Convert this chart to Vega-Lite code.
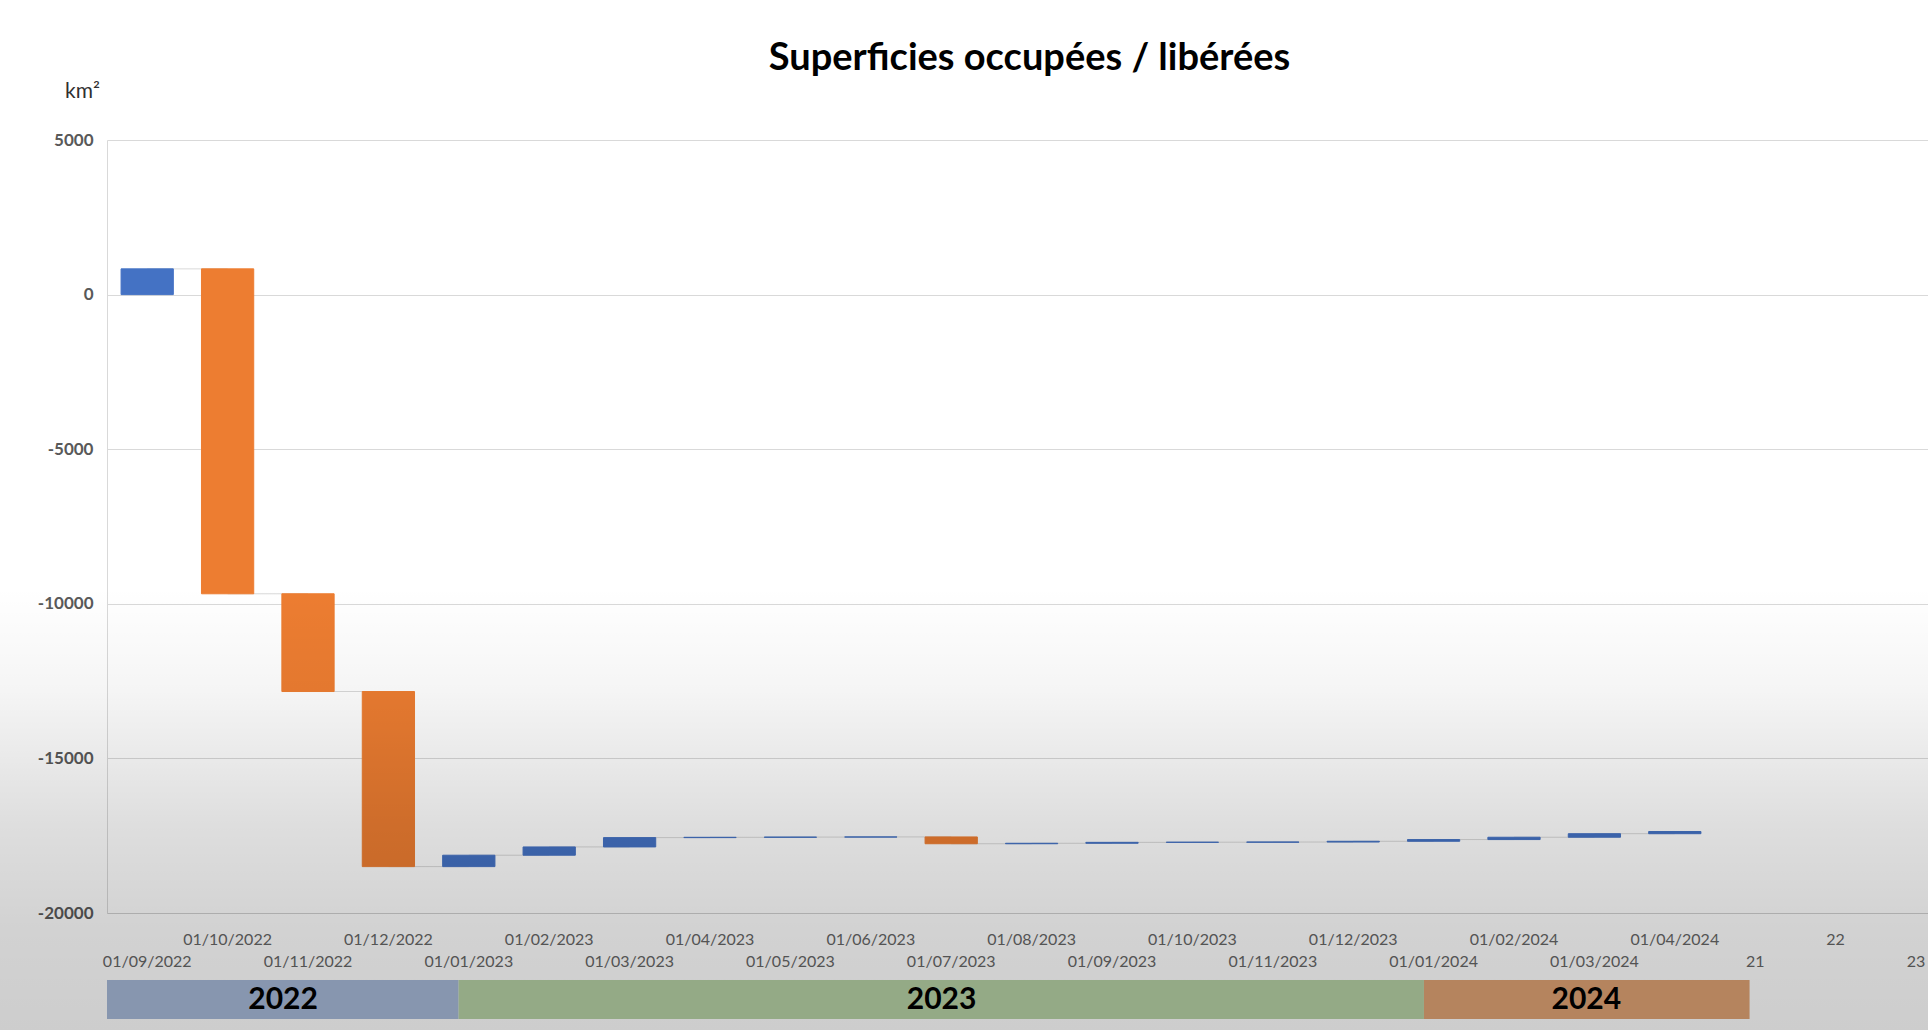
{
  "$schema": "https://vega.github.io/schema/vega-lite/v6.json",
  "width": 1821,
  "height": 773,
  "autosize": {"type": "none"},
  "padding": {"left": 107, "top": 140, "right": 0, "bottom": 117},
  "background": "white",
  "config": {"view": {"stroke": null}, "font": "Lato"},
  "title": {
    "text": "Superficies occupées / libérées",
    "font": "Lato",
    "fontSize": 38,
    "fontWeight": "bold",
    "color": "#000000",
    "anchor": "middle",
    "frame": "group",
    "dx": 12,
    "dy": 37,
    "offset": 9,
    "baseline": "alphabetic"
  },
  "datasets": {
    "flux": [
      {"cat": "01/09/2022", "start": 0, "end": 832, "type": "hausse", "next": "01/10/2022"},
      {"cat": "01/10/2022", "start": 832, "end": -9676, "type": "baisse", "next": "01/11/2022"},
      {"cat": "01/11/2022", "start": -9676, "end": -12837, "type": "baisse", "next": "01/12/2022"},
      {"cat": "01/12/2022", "start": -12837, "end": -18500, "type": "baisse", "next": "01/01/2023"},
      {"cat": "01/01/2023", "start": -18500, "end": -18131, "type": "hausse", "next": "01/02/2023"},
      {"cat": "01/02/2023", "start": -18131, "end": -17863, "type": "hausse", "next": "01/03/2023"},
      {"cat": "01/03/2023", "start": -17863, "end": -17562, "type": "hausse", "next": "01/04/2023"},
      {"cat": "01/04/2023", "start": -17562, "end": -17552, "type": "hausse", "next": "01/05/2023"},
      {"cat": "01/05/2023", "start": -17552, "end": -17545, "type": "hausse", "next": "01/06/2023"},
      {"cat": "01/06/2023", "start": -17545, "end": -17540, "type": "hausse", "next": "01/07/2023"},
      {"cat": "01/07/2023", "start": -17540, "end": -17760, "type": "baisse", "next": "01/08/2023"},
      {"cat": "01/08/2023", "start": -17760, "end": -17745, "type": "hausse", "next": "01/09/2023"},
      {"cat": "01/09/2023", "start": -17745, "end": -17715, "type": "hausse", "next": "01/10/2023"},
      {"cat": "01/10/2023", "start": -17715, "end": -17710, "type": "hausse", "next": "01/11/2023"},
      {"cat": "01/11/2023", "start": -17710, "end": -17705, "type": "hausse", "next": "01/12/2023"},
      {"cat": "01/12/2023", "start": -17705, "end": -17680, "type": "hausse", "next": "01/01/2024"},
      {"cat": "01/01/2024", "start": -17680, "end": -17625, "type": "hausse", "next": "01/02/2024"},
      {"cat": "01/02/2024", "start": -17625, "end": -17550, "type": "hausse", "next": "01/03/2024"},
      {"cat": "01/03/2024", "start": -17550, "end": -17435, "type": "hausse", "next": "01/04/2024"},
      {"cat": "01/04/2024", "start": -17435, "end": -17365, "type": "hausse", "next": null}
    ],
    "annees": [
      {"annee": "2022", "debut": 0, "fin": 4.373, "centre": 2.19},
      {"annee": "2023", "debut": 4.373, "fin": 16.38, "centre": 10.38},
      {"annee": "2024", "debut": 16.38, "fin": 20.43, "centre": 18.4}
    ],
    "fond": [{"a": 0, "b": 1}]
  },
  "layer": [
    {
      "data": {"name": "flux"},
      "encoding": {
        "x": {
          "field": "cat",
          "type": "nominal",
          "sort": null,
          "scale": {
            "type": "band",
            "domain": ["01/09/2022", "01/10/2022", "01/11/2022", "01/12/2022", "01/01/2023", "01/02/2023", "01/03/2023", "01/04/2023", "01/05/2023", "01/06/2023", "01/07/2023", "01/08/2023", "01/09/2023", "01/10/2023", "01/11/2023", "01/12/2023", "01/01/2024", "01/02/2024", "01/03/2024", "01/04/2024", "21", "22", "23"],
            "range": [0, 1849.2],
            "paddingInner": 0.35,
            "paddingOuter": 0.175
          },
          "axis": {
            "title": null,
            "ticks": false,
            "grid": false,
            "labelAngle": 0,
            "labelPadding": 18,
            "labelFont": "Lato",
            "labelFontSize": 16,
            "labelColor": "#666666",
            "labelLineHeight": 22.5,
            "labelOverlap": false,
            "labelFlush": false,
            "labelBound": false,
            "domainColor": "#d0d0d0",
            "labelExpr": "((length(datum.value) > 3 ? toNumber(substring(datum.value, 3, 5)) : toNumber(datum.value)) % 2 == 1) ? ['', datum.value] : datum.value"
          }
        }
      },
      "layer": [
        {
          "transform": [{"filter": "datum.next != null"}],
          "mark": {"type": "rule", "color": "#d9d9d9", "strokeWidth": 1},
          "encoding": {
            "x2": {"field": "next"},
            "y": {"field": "end", "type": "quantitative"}
          }
        },
        {
          "mark": {"type": "bar", "strokeWidth": 1},
          "encoding": {
            "y": {
              "field": "start",
              "type": "quantitative",
              "scale": {"domain": [-20000, 5000], "nice": false, "zero": false},
              "axis": {
                "values": [-20000, -15000, -10000, -5000, 0, 5000],
                "labelExpr": "'' + datum.value",
                "labelFont": "Lato",
                "labelFontWeight": "bold",
                "labelFontSize": 17,
                "labelColor": "#595959",
                "labelPadding": 14,
                "ticks": false,
                "domainColor": "#d9d9d9",
                "gridColor": "#d9d9d9",
                "title": "km²",
                "titleAngle": 0,
                "titleX": -25,
                "titleY": -49,
                "titleAlign": "center",
                "titleBaseline": "middle",
                "titleFont": "Lato",
                "titleFontWeight": "normal",
                "titleFontSize": 21,
                "titleColor": "#303030"
              }
            },
            "y2": {"field": "end"},
            "color": {
              "field": "type",
              "type": "nominal",
              "scale": {"domain": ["hausse", "baisse"], "range": ["#4472C4", "#ED7D31"]},
              "legend": null
            },
            "stroke": {
              "field": "type",
              "type": "nominal",
              "scale": {"domain": ["hausse", "baisse"], "range": ["#4472C4", "#ED7D31"]},
              "legend": null
            }
          }
        }
      ]
    },
    {
      "data": {"name": "fond"},
      "mark": {
        "type": "rect",
        "color": {
          "gradient": "linear",
          "x1": 0, "y1": 0, "x2": 0, "y2": 1,
          "stops": [
            {"offset": 0, "color": "rgba(0,0,0,0)"},
            {"offset": 0.164, "color": "rgba(0,0,0,0)"},
            {"offset": 0.358, "color": "rgba(0,0,0,0.04)"},
            {"offset": 0.611, "color": "rgba(0,0,0,0.13)"},
            {"offset": 0.806, "color": "rgba(0,0,0,0.175)"},
            {"offset": 1, "color": "rgba(0,0,0,0.195)"}
          ]
        }
      },
      "encoding": {
        "x": {"field": "a", "type": "quantitative", "scale": {"domain": [0, 1], "range": [-107, 1821], "nice": false, "zero": false}, "axis": null},
        "x2": {"field": "b"},
        "y": {"field": "a", "type": "quantitative", "scale": {"domain": [0, 1], "range": [890, 360], "nice": false, "zero": false}, "axis": null},
        "y2": {"field": "b"}
      }
    },
    {
      "data": {"name": "annees"},
      "layer": [
        {
          "mark": {"type": "rect"},
          "encoding": {
            "x": {"field": "debut", "type": "quantitative", "scale": {"domain": [0, 23], "range": [0, 1849.2], "nice": false, "zero": false}, "axis": null},
            "x2": {"field": "fin"},
            "y": {"datum": 0, "type": "quantitative", "scale": {"domain": [0, 1], "range": [879, 840], "nice": false, "zero": false}, "axis": null},
            "y2": {"datum": 1},
            "color": {
              "field": "annee",
              "type": "nominal",
              "scale": {"domain": ["2022", "2023", "2024"], "range": ["#8796AF", "#94AA86", "#B5845E"]},
              "legend": null
            }
          }
        },
        {
          "mark": {"type": "text", "font": "Lato", "fontWeight": "bold", "fontSize": 30, "color": "#000000", "baseline": "middle", "align": "center"},
          "encoding": {
            "x": {"field": "centre", "type": "quantitative"},
            "y": {"datum": 0.5, "type": "quantitative"},
            "text": {"field": "annee"}
          }
        }
      ]
    }
  ],
  "resolve": {"scale": {"x": "independent", "y": "independent", "color": "independent", "stroke": "independent"}}
}
